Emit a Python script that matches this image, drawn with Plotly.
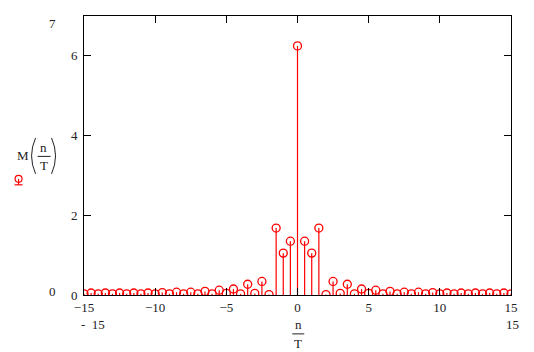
import plotly.graph_objects as go

# n/T values (step 0.5) and magnitude M(n/T)
x_vals = [-15.0, -14.5, -14.0, -13.5, -13.0, -12.5, -12.0, -11.5, -11.0, -10.5,
          -10.0, -9.5, -9.0, -8.5, -8.0, -7.5, -7.0, -6.5, -6.0, -5.5,
          -5.0, -4.5, -4.0, -3.5, -3.0, -2.5, -2.0, -1.5, -1.0, -0.5,
          0.0,
          0.5, 1.0, 1.5, 2.0, 2.5, 3.0, 3.5, 4.0, 4.5, 5.0,
          5.5, 6.0, 6.5, 7.0, 7.5, 8.0, 8.5, 9.0, 9.5, 10.0,
          10.5, 11.0, 11.5, 12.0, 12.5, 13.0, 13.5, 14.0, 14.5, 15.0]
m_vals = [0.03, 0.05, 0.03, 0.05, 0.03, 0.05, 0.03, 0.05, 0.03, 0.05,
          0.03, 0.06, 0.03, 0.07, 0.03, 0.07, 0.03, 0.09, 0.03, 0.12,
          0.04, 0.15, 0.03, 0.27, 0.04, 0.34, 0.01, 1.68, 1.05, 1.35,
          6.25,
          1.35, 1.05, 1.68, 0.01, 0.34, 0.04, 0.27, 0.03, 0.15, 0.04,
          0.12, 0.03, 0.09, 0.03, 0.07, 0.03, 0.07, 0.03, 0.06, 0.03,
          0.05, 0.03, 0.05, 0.03, 0.05, 0.03, 0.05, 0.03, 0.05, 0.03]
x_ticks = [-15, -10, -5, 0, 5, 10, 15]
x_tick_text = ["\u221215", "\u221210", "\u22125", "0", "5", "10", "15"]
y_ticks = [0, 2, 4, 6]

RED = "#ff0000"
FONT = "Liberation Serif"
TXT = "#222222"

# stems built from the data
sx, sy = [], []
for xv, mv in zip(x_vals, m_vals):
    sx += [xv, xv, None]
    sy += [0, mv, None]

fig = go.Figure()
fig.add_trace(go.Scatter(x=sx, y=sy, mode="lines",
                         line=dict(color=RED, width=1.2), hoverinfo="skip",
                         showlegend=False))
fig.add_trace(go.Scatter(x=x_vals, y=m_vals, mode="markers",
                         marker=dict(symbol="circle-open", size=8,
                                     color=RED, line=dict(color=RED, width=1.3)),
                         showlegend=False))

# plot-area pixel geometry
L, R, T, B = 83.5, 511.0, 15.7, 295.5
W, H = R - L, B - T


def px(x):
    return (x - L) / W


def py(y):
    return (B - y) / H


def ann(text, x, y, size=13, xanchor="center"):
    return dict(text=text, x=px(x), y=py(y), xref="paper", yref="paper",
                showarrow=False, xanchor=xanchor, yanchor="middle",
                font=dict(family=FONT, size=size, color=TXT))


annotations = [
    ann("7", 52, 23),
    ann("0", 52, 292),
    ann("-  15", 93, 325),
    ann("15", 513, 325),
    ann("n", 298, 325),
    ann("T", 298, 344),
    ann("M", 22, 156),
    ann("n", 43, 148),
    ann("T", 43, 166),
]

shapes = [
    # x-axis title fraction bar
    dict(type="line", xref="paper", yref="paper", x0=px(292), x1=px(304),
         y0=py(334.5), y1=py(334.5), line=dict(color=TXT, width=1)),
    # legend fraction bar
    dict(type="line", xref="paper", yref="paper", x0=px(37), x1=px(50),
         y0=py(156.5), y1=py(156.5), line=dict(color=TXT, width=1)),
    # parentheses
    dict(type="path", xref="paper", yref="paper",
         path=f"M {px(35)},{py(138)} Q {px(27)},{py(156)} {px(35)},{py(174)}",
         line=dict(color=TXT, width=1)),
    dict(type="path", xref="paper", yref="paper",
         path=f"M {px(51)},{py(138)} Q {px(59)},{py(156)} {px(51)},{py(174)}",
         line=dict(color=TXT, width=1)),
    # legend symbol
    dict(type="circle", xref="paper", yref="paper",
         x0=px(14.5), x1=px(21.5), y0=py(182.5), y1=py(175.5),
         line=dict(color=RED, width=1.2)),
    dict(type="line", xref="paper", yref="paper", x0=px(18), x1=px(18),
         y0=py(179), y1=py(185), line=dict(color=RED, width=1.2)),
    dict(type="line", xref="paper", yref="paper", x0=px(14), x1=px(22),
         y0=py(185), y1=py(185), line=dict(color=RED, width=1.2)),
]

axis_common = dict(showgrid=False, zeroline=False, showline=True,
                   linecolor="black", linewidth=1, mirror="ticks",
                   ticks="inside", ticklen=7, tickcolor="black", tickwidth=1,
                   tickfont=dict(family=FONT, size=13, color=TXT))

fig.update_layout(
    width=534, height=352,
    margin=dict(l=L, r=534 - R, t=T, b=352 - B, pad=0),
    paper_bgcolor="white", plot_bgcolor="white",
    xaxis=dict(range=[-15, 15], tickvals=x_ticks, ticktext=x_tick_text,
               **axis_common),
    yaxis=dict(range=[0, 7], tickvals=y_ticks, ticklabelstandoff=3,
               **axis_common),
    annotations=annotations,
    shapes=shapes,
    showlegend=False,
)

fig.write_html("out.html")
